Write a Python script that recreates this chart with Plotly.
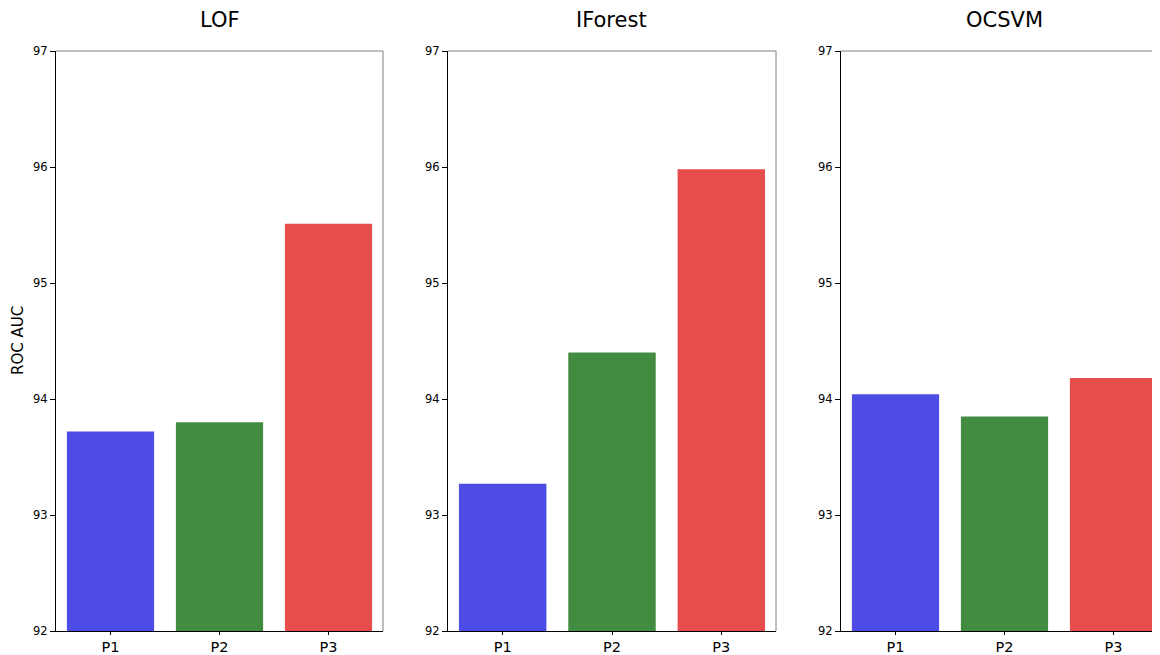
import plotly.graph_objects as go

categories = ["P1", "P2", "P3"]
methods = ["LOF", "IForest", "OCSVM"]
lof_values = [93.72, 93.80, 95.51]
iforest_values = [93.27, 94.40, 95.98]
ocsvm_values = [94.04, 93.85, 94.18]
bar_colors = ["#4d4de6", "#428c41", "#e64d4d"]
y_ticks = [92, 93, 94, 95, 96, 97]

OFF = 8  # page body margin
W, H = 1160 - OFF, 655 - OFF
series = [lof_values, iforest_values, ocsvm_values]
x_px = [(56, 383), (448, 776), (841, 1160)]
x_ranges = [[-0.5, 2.5], [-0.5, 2.5], [-0.5, -0.5 + (1160 - 841) / 109.0]]


def px_x(v):
    return (v - OFF) / W


def px_y(v):
    return (H - (v - OFF)) / H


y_dom = [px_y(631), px_y(51)]

fig = go.Figure()
layout = dict(
    template="none",
    width=W, height=H, margin=dict(l=0, r=0, t=0, b=0, pad=0), autosize=False,
    paper_bgcolor="white", plot_bgcolor="white", showlegend=False,
    font=dict(family="DejaVu Sans", color="black"),
)
annotations = []
shapes = []
for i, (name, vals) in enumerate(zip(methods, series)):
    n = "" if i == 0 else str(i + 1)
    fig.add_trace(go.Bar(
        x=categories, y=vals, marker=dict(color=bar_colors, line=dict(width=0)),
        xaxis="x" + n, yaxis="y" + n, width=0.8,
    ))
    x0, x1 = x_px[i]
    layout["xaxis" + n] = dict(
        domain=[px_x(x0), px_x(x1)], anchor="y" + n, range=x_ranges[i],
        showline=True, linecolor="black", linewidth=1, ticks="outside",
        ticklen=3, tickcolor="black", tickfont=dict(size=14.5, family="DejaVu Sans"),
        showgrid=False, zeroline=False, automargin=False,
    )
    layout["yaxis" + n] = dict(
        domain=y_dom, anchor="x" + n, range=[92, 97], tickvals=y_ticks,
        showline=True, linecolor="black", linewidth=1, ticks="outside",
        ticklen=5, tickcolor="black", tickfont=dict(size=11.5, family="DejaVu Sans"),
        showgrid=False, zeroline=False, automargin=False,
    )
    annotations.append(dict(
        text=name, x=px_x(x0 + 163.5), y=px_y(20),
        xref="paper", yref="paper", showarrow=False,
        font=dict(size=21, family="DejaVu Sans"), xanchor="center", yanchor="middle",
    ))
    shapes.append(dict(type="line", xref="x" + n + " domain", yref="y" + n + " domain",
                       x0=0, x1=1, y0=1, y1=1, line=dict(color="#808080", width=1)))
    if i < 2:
        shapes.append(dict(type="line", xref="x" + n + " domain", yref="y" + n + " domain",
                           x0=1, x1=1, y0=0, y1=1, line=dict(color="#808080", width=1)))

annotations.append(dict(
    text="ROC AUC", x=px_x(18), y=px_y(341), xref="paper", yref="paper",
    showarrow=False, textangle=-90, font=dict(size=15, family="DejaVu Sans"),
    xanchor="center", yanchor="middle",
))
layout["annotations"] = annotations
layout["shapes"] = shapes
fig.update_layout(**layout)
fig.write_html("out.html")
